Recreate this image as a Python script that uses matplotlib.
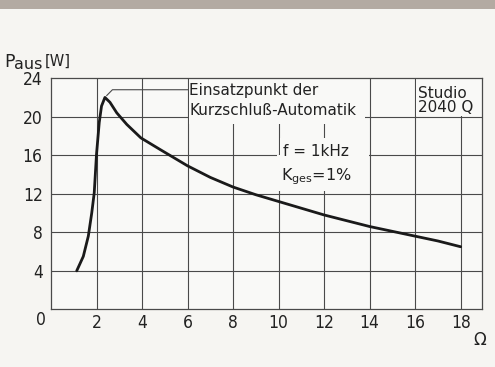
import matplotlib
matplotlib.use("Agg")
import matplotlib.pyplot as plt
from matplotlib.patches import Rectangle

# Ausgangsleistung ueber Lastwiderstand (f = 1 kHz, K_ges = 1 %)
r_ohm = [1.13, 1.42, 1.64, 1.79, 1.9, 2.0, 2.12, 2.22, 2.37, 2.59, 2.89, 3.33, 3.95,
         4.79, 6, 7, 8, 9, 10, 11, 12, 13, 14, 15, 16, 17, 18]
p_watt = [4, 5.5, 7.6, 10.0, 12.1, 16.1, 19.4, 21.1, 22.0, 21.5, 20.4, 19.2, 17.8,
          16.6, 14.9, 13.7, 12.7, 11.9, 11.2, 10.5, 9.8, 9.2, 8.6, 8.1, 7.6, 7.1, 6.5]

x_ticks = [2, 4, 6, 8, 10, 12, 14, 16, 18]
y_ticks = [4, 8, 12, 16, 20, 24]

paper = '#f6f5f2'
ink = '#222222'
grid_col = '#4a4a4a'

fig = plt.figure(figsize=(4.95, 3.67), dpi=100, facecolor=paper)
ax = fig.add_axes([0.103, 0.157, 0.870, 0.630])
ax.set_facecolor('#f9f9f7')
ax.set_xlim(0, 18.92)
ax.set_ylim(0, 24)

# Gitter
for xv in x_ticks:
    ax.axvline(xv, color=grid_col, lw=0.8, zorder=1)
for yv in y_ticks[:-1]:
    ax.axhline(yv, color=grid_col, lw=0.8, zorder=1)
for s in ax.spines.values():
    s.set_color(grid_col)
    s.set_linewidth(0.9)

# Textfelder decken das Gitter ab
boxes = [(6.05, 19.2, 7.75, 4.8),
         (16.05, 20.05, 2.85, 3.9),
         (9.95, 12.3, 4.0, 3.75),
         (10.05, 16.0, 3.9, 1.8)]
for bx, by, bw, bh in boxes:
    ax.add_patch(Rectangle((bx, by), bw, bh, facecolor='#f9f9f7',
                           edgecolor='none', zorder=2))

# Kennlinie
ax.plot(r_ohm, p_watt, color='#1a1a1a', lw=2.0, zorder=4,
        solid_joinstyle='round', solid_capstyle='round')

# Hinweislinie zum Einsatzpunkt
ax.plot([2.45, 2.7, 6.0], [22.2, 22.8, 22.8], color=grid_col, lw=0.8, zorder=3)

ax.text(6.08, 22.75, 'Einsatzpunkt der', fontsize=11, color=ink,
        va='center', ha='left', zorder=5)
ax.text(6.08, 20.6, 'Kurzschluß-Automatik', fontsize=11, color=ink,
        va='center', ha='left', zorder=5)
ax.text(10.2, 16.4, 'f = 1kHz', fontsize=11, color=ink,
        va='center', ha='left', zorder=5)
ax.text(10.1, 13.8, r'K$_\mathregular{ges}$=1%', fontsize=11.5, color=ink,
        va='center', ha='left', zorder=5)
ax.text(16.12, 22.45, 'Studio', fontsize=11, color=ink,
        va='center', ha='left', zorder=5)
ax.text(16.12, 20.95, '2040 Q', fontsize=11, color=ink,
        va='center', ha='left', zorder=5)

# Achsbeschriftung
ax.set_xticks(x_ticks)
ax.set_yticks(y_ticks)
ax.tick_params(length=0, labelcolor=ink, labelsize=12.5)
ax.tick_params(axis='x', pad=3)
ax.tick_params(axis='y', pad=6)
for lab in ax.get_xticklabels() + ax.get_yticklabels():
    lab.set_fontstretch('condensed')
ax.text(-0.42, -1.1, '0', fontsize=12.5, fontstretch='condensed', color=ink,
        ha='center', va='center', clip_on=False)

fig.text(0.008, 0.83, 'P', fontsize=12.5, color=ink, ha='left', va='center')
fig.text(0.028, 0.825, 'aus', fontsize=11.5, color=ink, ha='left', va='center')
fig.text(0.09, 0.833, '[W]', fontsize=10.5, color=ink, ha='left', va='center')
fig.text(0.969, 0.074, 'Ω', fontsize=12, color=ink, ha='center', va='center')

# grauer Rand oben
fig.patches.append(Rectangle((0, 0.975), 1, 0.025, transform=fig.transFigure,
                             facecolor='#b3aaa2', edgecolor='none', zorder=0))

fig.savefig('out.png', dpi=100, facecolor=paper)
